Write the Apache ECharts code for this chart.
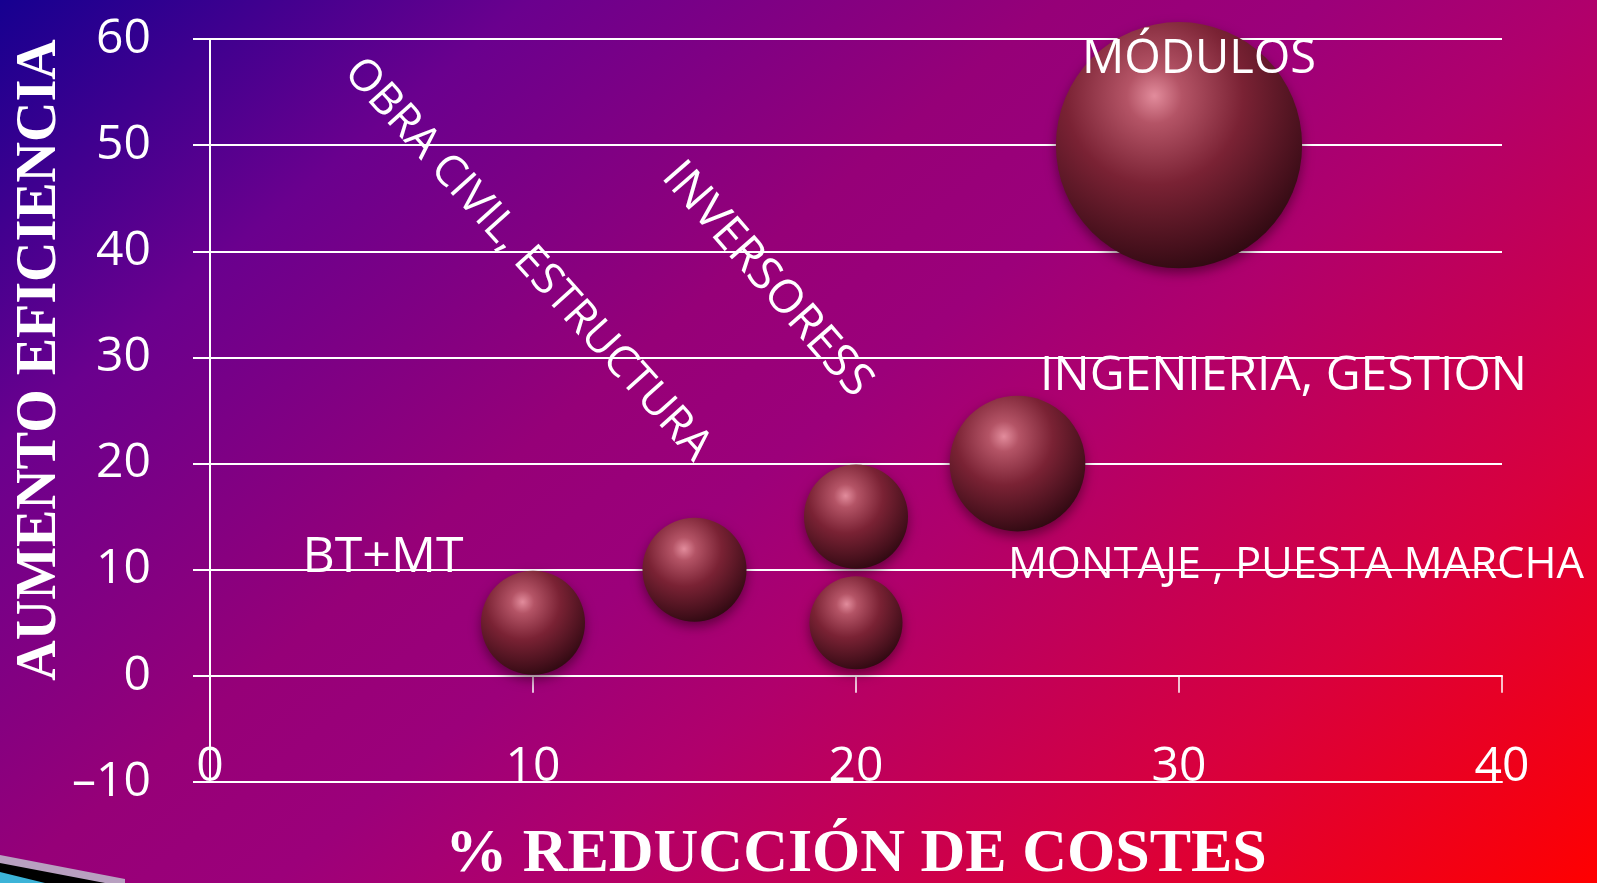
<!DOCTYPE html>
<html>
<head>
<meta charset="utf-8">
<script src="https://cdn.jsdelivr.net/npm/echarts@6/dist/echarts.min.js"></script>
<style>
  html, body { margin: 0; padding: 0; }
  #main {
    width: 1597px;
    height: 883px;
    background: linear-gradient(140deg, #160090 0%, #6a008e 20%, #960078 40%, #9c007a 50%, #b0006c 60%, #d8003e 80%, #ff0000 100%);
  }
</style>
</head>
<body>
<div id="main"></div>
<script>
var myChart = echarts.init(document.getElementById('main'));

// data
var nombres = ['BT+MT', 'OBRA CIVIL, ESTRUCTURA', 'INVERSORESS', 'MONTAJE , PUESTA MARCHA', 'INGENIERIA, GESTION', 'MÓDULOS'];
var reduccion = [10, 15, 20, 20, 25, 30];
var eficiencia = [5, 10, 15, 5, 20, 50];
var tamano = [10, 10, 10, 8, 17, 56];

// where each label sits relative to its bubble (px), its rotation (deg) and size
var etiquetas = [
    {dx: -150, dy: -65, rot: 0, size: 50},
    {dx: -167, dy: -310, rot: -48, size: 44},
    {dx: -89, dy: -237, rot: -49, size: 46},
    {dx: 440, dy: -57, rot: 0, size: 43.5},
    {dx: 266, dy: -87, rot: 0, size: 48},
    {dx: 20, dy: -86, rot: 0, size: 47}
];

var datos = [];
for (var i = 0; i < nombres.length; i++) {
    datos.push({name: nombres[i], value: [reduccion[i], eficiencia[i], tamano[i]]});
}

var blanco = '#ffffff';
var fuente = '"Open Sans", sans-serif';

option = {
    animation: false,
    grid: {
        left: 210,
        right: 95,
        top: 39,
        bottom: 101,
        outerBoundsMode: 'none'
    },
    xAxis: [
        {
            type: 'value',
            position: 'bottom',
            min: 0,
            max: 40,
            interval: 10,
            name: '% REDUCCIÓN DE COSTES',
            nameLocation: 'middle',
            nameGap: 42,
            nameTextStyle: {
                color: blanco,
                fontFamily: '"Liberation Serif", serif',
                fontWeight: 'bold',
                fontSize: 62
            },
            axisLine: {onZero: false, lineStyle: {color: blanco, width: 2}},
            axisTick: {show: false},
            splitLine: {show: false},
            axisLabel: {
                inside: true,
                margin: -9,
                color: blanco,
                fontFamily: fuente,
                fontSize: 48
            }
        },
        {
            // the line at y = 0 with its small downward ticks
            type: 'value',
            position: 'bottom',
            min: 0,
            max: 40,
            interval: 10,
            axisLine: {onZero: true, lineStyle: {color: blanco, width: 2}},
            axisTick: {show: true, length: 17, lineStyle: {color: blanco, width: 1.5}},
            axisLabel: {show: false},
            splitLine: {show: false}
        }
    ],
    yAxis: {
        type: 'value',
        min: -10,
        max: 60,
        interval: 10,
        axisLine: {show: true, lineStyle: {color: blanco, width: 2}},
        axisTick: {show: true, length: 17, lineStyle: {color: blanco, width: 2}},
        splitLine: {show: true, lineStyle: {color: blanco, width: 2}},
        axisLabel: {
            margin: 59,
            color: blanco,
            fontFamily: fuente,
            fontSize: 48,
            formatter: function (v) { return String(v).replace('-', '–'); }
        }
    },
    series: [
        {
            name: 'Aumento eficiencia',
            type: 'scatter',
            xAxisIndex: 0,
            yAxisIndex: 0,
            data: datos,
            symbolSize: function (val) { return 32.9 * Math.sqrt(val[2]); },
            itemStyle: {
                opacity: 1,
                color: {
                    type: 'radial',
                    x: 0.4,
                    y: 0.3,
                    r: 0.8,
                    colorStops: [
                        {offset: 0, color: '#e28c9c'},
                        {offset: 0.14, color: '#b45466'},
                        {offset: 0.45, color: '#7a2234'},
                        {offset: 0.78, color: '#46101c'},
                        {offset: 1, color: '#20050a'}
                    ]
                },
                shadowBlur: 12,
                shadowColor: 'rgba(40, 0, 20, 0.55)',
                shadowOffsetY: 5
            }
        }
    ]
};

myChart.setOption(option);

// labels and titles as free text, anchored on the bubbles through the axes
var graficos = [
    {
        type: 'text',
        x: 41,
        y: 360,
        rotation: Math.PI / 2,
        style: {
            text: 'AUMENTO EFICIENCIA',
            fill: blanco,
            fontFamily: '"Liberation Serif", serif',
            fontWeight: 'bold',
            fontSize: 56,
            align: 'center',
            verticalAlign: 'middle'
        }
    },
    {type: 'polygon', shape: {points: [[0, 855], [125, 879], [125, 883], [0, 883]]}, style: {fill: '#b8a0c0'}},
    {type: 'polygon', shape: {points: [[0, 863], [105, 883], [0, 883]]}, style: {fill: '#000000'}},
    {type: 'polygon', shape: {points: [[0, 872], [45, 883], [0, 883]]}, style: {fill: '#3cb4d8'}}
];
for (var j = 0; j < datos.length; j++) {
    var p = myChart.convertToPixel({seriesIndex: 0}, [reduccion[j], eficiencia[j]]);
    var e = etiquetas[j];
    graficos.push({
        type: 'text',
        x: p[0] + e.dx,
        y: p[1] + e.dy,
        rotation: e.rot * Math.PI / 180,
        z: 10,
        style: {
            text: nombres[j],
            fill: blanco,
            fontFamily: fuente,
            fontSize: e.size,
            align: 'center',
            verticalAlign: 'middle'
        }
    });
}
myChart.setOption({graphic: graficos});
</script>
</body>
</html>
